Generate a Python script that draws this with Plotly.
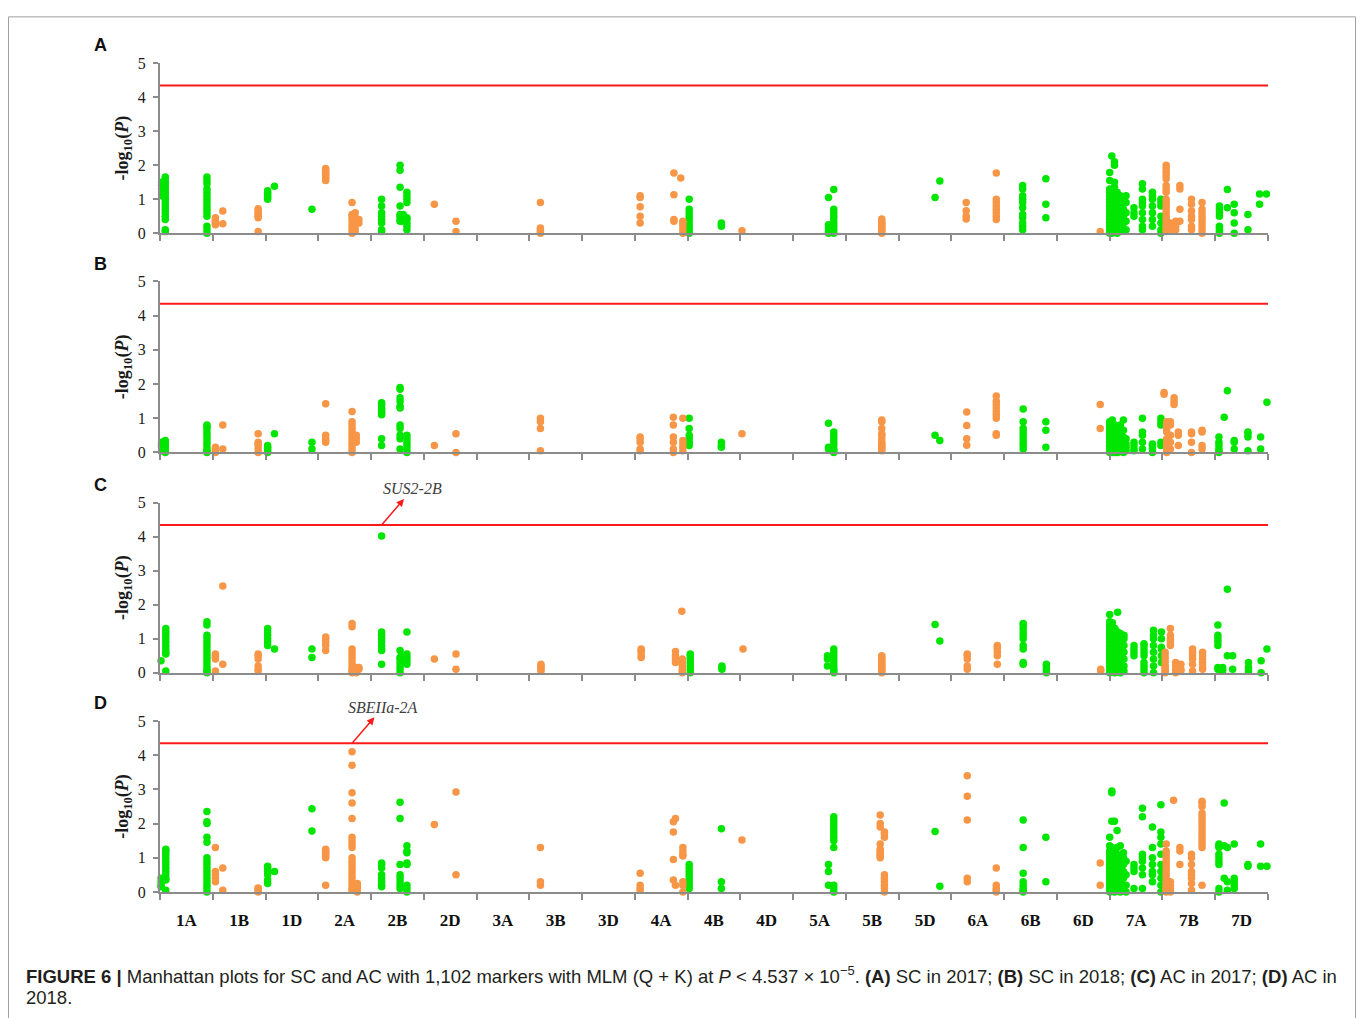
import math
import plotly.graph_objects as go

# ---------------- data ----------------
chromosomes = ["1A", "1B", "1D", "2A", "2B", "2D", "3A", "3B", "3D", "4A", "4B",
               "4D", "5A", "5B", "5D", "6A", "6B", "6D", "7A", "7B", "7D"]
p_threshold = 4.537e-5
y_ticks = [0, 1, 2, 3, 4, 5]

# clusters: (genome position in chromosome units, [-log10(P) values])
panel_a = [
    (0.03, [1.1, 1.3, 1.4, 1.5]),
    (0.10, [0.05, 0.1, 0.4, 0.5, 0.6, 0.7, 0.8, 0.9, 1.0, 1.1, 1.2, 1.3, 1.4, 1.5, 1.6, 1.65]),
    (0.89, [0.0, 0.1, 0.2, 0.5, 0.6, 0.7, 0.8, 0.9, 1.0, 1.1, 1.2, 1.3, 1.45, 1.55, 1.65]),
    (1.05, [0.25, 0.3, 0.35, 0.4, 0.45]),
    (1.19, [0.28, 0.65]),
    (1.86, [0.05, 0.45, 0.5, 0.55, 0.6, 0.65, 0.72]),
    (2.04, [1.0, 1.05, 1.1, 1.15, 1.2, 1.25]),
    (2.17, [1.38]),
    (2.88, [0.7]),
    (3.14, [1.55, 1.6, 1.65, 1.7, 1.75, 1.8, 1.85, 1.9]),
    (3.64, [0.0, 0.1, 0.2, 0.3, 0.4, 0.5, 0.55, 0.9]),
    (3.70, [0.05, 0.15, 0.3, 0.45, 0.6]),
    (3.77, [0.3, 0.4]),
    (4.20, [0.05, 0.1, 0.3, 0.4, 0.5, 0.6, 0.8, 1.0]),
    (4.55, [0.35, 0.4, 0.5, 0.55, 0.8, 1.35, 1.85, 2.0]),
    (4.61, [0.35, 0.45, 0.55]),
    (4.68, [0.1, 0.2, 0.3, 0.4, 0.45, 0.9, 1.0, 1.1, 1.2]),
    (5.20, [0.85]),
    (5.61, [0.05, 0.35]),
    (7.21, [0.0, 0.05, 0.1, 0.15, 0.9]),
    (9.10, [0.3, 0.5, 0.78, 1.05, 1.1]),
    (9.74, [0.35, 0.4, 1.13, 1.77]),
    (9.87, [1.62]),
    (9.91, [0.0, 0.1, 0.2, 0.3, 0.35]),
    (10.03, [0.0, 0.1, 0.2, 0.3, 0.4, 0.5, 0.6, 0.7, 1.0]),
    (10.64, [0.2, 0.25, 0.3]),
    (11.03, [0.07]),
    (12.67, [0.0, 0.05, 0.15, 0.25, 1.05]),
    (12.77, [0.0, 0.1, 0.2, 0.3, 0.4, 0.5, 0.6, 0.7, 1.28]),
    (13.68, [0.0, 0.05, 0.1, 0.15, 0.2, 0.25, 0.3, 0.35, 0.42]),
    (14.69, [1.05]),
    (14.78, [1.53]),
    (15.28, [0.42, 0.5, 0.66, 0.9]),
    (15.85, [0.4, 0.5, 0.6, 0.7, 0.8, 0.9, 1.0, 1.77]),
    (16.35, [0.1, 0.2, 0.3, 0.45, 0.55, 0.75, 0.9, 1.0, 1.1, 1.3, 1.4]),
    (16.79, [0.45, 0.85, 1.6]),
    (17.82, [0.05]),
    (18.00, [0.0, 0.1, 0.2, 0.3, 0.4, 0.5, 0.6, 0.7, 0.8, 0.9, 1.0, 1.1, 1.2, 1.3, 1.55, 1.78]),
    (18.04, [0.0, 0.15, 0.25, 0.35, 0.45, 0.55, 0.65, 0.75, 0.85, 0.95, 1.05, 1.15, 1.25, 2.27]),
    (18.09, [0.05, 0.2, 0.3, 0.4, 0.5, 0.6, 0.7, 0.8, 0.9, 1.0, 1.1, 1.2, 1.35, 1.5, 2.0, 2.1]),
    (18.14, [0.0, 0.1, 0.3, 0.5, 0.6, 0.7, 0.8, 0.9, 1.0, 1.1, 1.2]),
    (18.20, [0.05, 0.2, 0.4, 0.6, 0.8, 0.9, 1.0, 1.1]),
    (18.26, [0.1, 0.3, 0.5, 0.7, 0.9, 1.0]),
    (18.31, [0.1, 0.35, 0.6, 0.9, 1.1]),
    (18.46, [0.5, 0.6, 0.75]),
    (18.62, [0.1, 0.2, 0.4, 0.6, 0.8, 0.9, 1.0, 1.3, 1.45]),
    (18.81, [0.2, 0.4, 0.6, 0.8, 1.0, 1.1, 1.2]),
    (18.97, [0.0, 0.1, 0.3, 0.5, 0.8, 0.9, 1.0]),
    (19.07, [0.05, 0.1, 0.2, 0.3, 0.4, 0.5, 0.6, 0.7, 0.8, 0.9, 1.0, 1.2, 1.3, 1.4, 1.6, 1.7, 1.8, 1.9, 2.0]),
    (19.15, [0.1, 0.15, 0.2, 0.3]),
    (19.25, [0.1, 0.2, 0.35]),
    (19.33, [0.35, 0.7, 1.3, 1.4]),
    (19.55, [0.1, 0.2, 0.4, 0.5, 0.65, 0.85, 1.0]),
    (19.75, [0.0, 0.1, 0.2, 0.3, 0.4, 0.5, 0.6, 0.7, 0.9]),
    (20.08, [0.0, 0.05, 0.1, 0.15, 0.2, 0.5, 0.6, 0.7, 0.8]),
    (20.23, [0.75, 1.28]),
    (20.36, [0.0, 0.3, 0.6, 0.85]),
    (20.62, [0.1, 0.55]),
    (20.84, [0.85, 1.15]),
    (20.97, [1.15]),
]

panel_b = [
    (0.03, [0.05, 0.15, 0.2, 0.25, 0.3]),
    (0.10, [0.0, 0.05, 0.1, 0.15, 0.2, 0.25, 0.3, 0.35]),
    (0.89, [0.0, 0.05, 0.1, 0.2, 0.3, 0.4, 0.5, 0.6, 0.7, 0.75, 0.8]),
    (1.05, [0.0, 0.05, 0.1, 0.15]),
    (1.19, [0.1, 0.8]),
    (1.86, [0.0, 0.1, 0.2, 0.25, 0.3, 0.55]),
    (2.04, [0.0, 0.05, 0.1, 0.15, 0.2]),
    (2.17, [0.55]),
    (2.88, [0.1, 0.3]),
    (3.14, [0.3, 0.35, 0.4, 0.5, 1.42]),
    (3.64, [0.0, 0.1, 0.2, 0.3, 0.4, 0.5, 0.6, 0.7, 0.8, 0.9, 1.2]),
    (3.72, [0.3, 0.4, 0.5]),
    (4.20, [0.2, 0.4, 1.1, 1.15, 1.2, 1.25, 1.3, 1.4, 1.45]),
    (4.55, [0.1, 0.4, 0.5, 0.7, 0.8, 1.3, 1.35, 1.5, 1.6, 1.85, 1.9]),
    (4.68, [0.0, 0.1, 0.2, 0.3, 0.4, 0.5]),
    (5.20, [0.2]),
    (5.61, [0.0, 0.55]),
    (7.21, [0.05, 0.7, 0.9, 1.0]),
    (9.10, [0.05, 0.1, 0.3, 0.4, 0.45]),
    (9.73, [0.0, 0.1, 0.3, 0.45, 0.8, 1.03]),
    (9.91, [0.05, 0.15, 0.25, 0.35, 1.0]),
    (10.03, [0.2, 0.25, 0.3, 0.4, 0.5, 0.7, 1.0]),
    (10.64, [0.15, 0.2, 0.3]),
    (11.03, [0.55]),
    (12.67, [0.1, 0.15, 0.85]),
    (12.77, [0.0, 0.05, 0.1, 0.2, 0.3, 0.4, 0.5, 0.6]),
    (13.68, [0.05, 0.1, 0.15, 0.2, 0.25, 0.3, 0.4, 0.5, 0.55, 0.7, 0.9, 0.95]),
    (14.69, [0.5]),
    (14.78, [0.35]),
    (15.29, [0.21, 0.4, 0.79, 1.18]),
    (15.85, [0.5, 0.55, 1.0, 1.1, 1.2, 1.3, 1.4, 1.5, 1.65]),
    (16.36, [0.1, 0.2, 0.3, 0.4, 0.5, 0.6, 0.7, 0.9, 1.27]),
    (16.79, [0.15, 0.65, 0.9]),
    (17.82, [0.7, 1.4]),
    (18.00, [0.0, 0.05, 0.1, 0.2, 0.3, 0.4, 0.5, 0.6, 0.7, 0.8, 0.9]),
    (18.05, [0.0, 0.1, 0.15, 0.25, 0.35, 0.45, 0.55, 0.65, 0.75, 0.95]),
    (18.10, [0.0, 0.05, 0.2, 0.3, 0.4, 0.5, 0.6, 0.7, 0.8]),
    (18.15, [0.0, 0.1, 0.2, 0.3, 0.4, 0.55, 0.65]),
    (18.20, [0.05, 0.15, 0.3, 0.45, 0.6, 0.75, 0.8]),
    (18.26, [0.0, 0.1, 0.2, 0.3, 0.45, 0.65, 0.95]),
    (18.31, [0.05, 0.15, 0.25, 0.4]),
    (18.46, [0.05, 0.1, 0.2, 0.3]),
    (18.62, [0.1, 0.3, 0.5, 0.6, 1.0]),
    (18.81, [0.0, 0.1, 0.2, 0.25]),
    (18.97, [0.2, 0.3, 0.8, 0.9, 1.0]),
    (19.03, [1.7, 1.75]),
    (19.08, [0.0, 0.1, 0.2, 0.3, 0.4, 0.6, 0.7, 0.8, 0.9]),
    (19.15, [0.1, 0.3, 0.5, 0.8, 0.9]),
    (19.22, [1.4, 1.5, 1.6]),
    (19.30, [0.2, 0.5, 0.6]),
    (19.55, [0.0, 0.3, 0.55, 0.6]),
    (19.75, [0.1, 0.2, 0.6, 0.65]),
    (20.07, [0.0, 0.05, 0.1, 0.2, 0.3, 0.45]),
    (20.17, [1.03]),
    (20.23, [1.8]),
    (20.36, [0.1, 0.3, 0.35]),
    (20.62, [0.05, 0.45, 0.55, 0.6]),
    (20.86, [0.1, 0.45]),
    (20.98, [1.47]),
]

panel_c = [
    (0.02, [0.35]),
    (0.11, [0.05, 0.55, 0.6, 0.7, 0.8, 0.9, 1.0, 1.1, 1.2, 1.3]),
    (0.89, [0.0, 0.05, 0.1, 0.2, 0.3, 0.4, 0.5, 0.6, 0.7, 0.8, 0.9, 1.0, 1.1, 1.4, 1.5]),
    (1.05, [0.05, 0.4, 0.45, 0.5, 0.55]),
    (1.19, [0.25, 2.55]),
    (1.86, [0.05, 0.1, 0.2, 0.4, 0.5, 0.55]),
    (2.04, [0.8, 0.9, 1.0, 1.1, 1.2, 1.3]),
    (2.17, [0.7]),
    (2.88, [0.45, 0.7]),
    (3.14, [0.65, 0.8, 0.9, 1.0, 1.05]),
    (3.64, [0.0, 0.05, 0.1, 0.2, 0.3, 0.4, 0.5, 0.6, 0.7, 1.35, 1.45]),
    (3.72, [0.0, 0.1, 0.15]),
    (3.77, [0.1, 0.15]),
    (4.20, [0.25, 0.65, 0.7, 0.8, 0.9, 1.0, 1.1, 1.2, 4.02]),
    (4.55, [0.0, 0.1, 0.2, 0.3, 0.4, 0.45, 0.65]),
    (4.61, [0.3, 0.5]),
    (4.68, [0.25, 0.35, 0.45, 0.55, 1.2]),
    (5.20, [0.4]),
    (5.61, [0.1, 0.55]),
    (7.22, [0.05, 0.1, 0.15, 0.2, 0.25]),
    (9.12, [0.45, 0.5, 0.6, 0.65, 0.7]),
    (9.77, [0.3, 0.4, 0.5, 0.62]),
    (9.89, [1.81]),
    (9.90, [0.0, 0.05, 0.1, 0.2, 0.3, 0.4]),
    (10.05, [0.0, 0.1, 0.2, 0.3, 0.4, 0.5, 0.55]),
    (10.65, [0.1, 0.15, 0.2]),
    (11.05, [0.7]),
    (12.65, [0.2, 0.4, 0.5]),
    (12.77, [0.0, 0.05, 0.1, 0.2, 0.3, 0.4, 0.5, 0.6, 0.7]),
    (13.68, [0.0, 0.05, 0.1, 0.15, 0.2, 0.25, 0.3, 0.35, 0.4, 0.45, 0.5]),
    (14.69, [1.42]),
    (14.78, [0.93]),
    (15.30, [0.1, 0.2, 0.4, 0.5, 0.55]),
    (15.87, [0.25, 0.5, 0.6, 0.7, 0.75, 0.8]),
    (16.36, [0.25, 0.3, 0.7, 0.8, 1.0, 1.1, 1.2, 1.3, 1.4, 1.45]),
    (16.80, [0.0, 0.1, 0.2, 0.25]),
    (17.83, [0.05, 0.1]),
    (18.00, [0.0, 0.1, 0.2, 0.3, 0.4, 0.5, 0.6, 0.7, 0.8, 0.9, 1.0, 1.1, 1.2, 1.3, 1.4, 1.5, 1.71]),
    (18.05, [0.05, 0.15, 0.25, 0.35, 0.45, 0.55, 0.65, 0.75, 0.85, 0.95, 1.05, 1.15, 1.25, 1.47]),
    (18.10, [0.0, 0.1, 0.2, 0.3, 0.4, 0.5, 0.6, 0.7, 0.8, 0.9, 1.0, 1.1, 1.2, 1.3]),
    (18.15, [0.05, 0.2, 0.35, 0.5, 0.65, 0.8, 0.95, 1.1, 1.2, 1.78]),
    (18.20, [0.0, 0.15, 0.3, 0.45, 0.6, 0.75, 0.9, 1.05, 1.15]),
    (18.27, [0.05, 0.2, 0.4, 0.6, 0.8, 1.0, 1.1]),
    (18.46, [0.5, 0.6, 0.7, 0.8]),
    (18.65, [0.0, 0.1, 0.2, 0.3, 0.5, 0.6, 0.7, 0.8, 0.85]),
    (18.83, [0.0, 0.2, 0.4, 0.6, 0.8, 1.0, 1.1, 1.25]),
    (18.98, [0.3, 0.5, 0.7, 0.75, 1.0, 1.2]),
    (19.05, [0.0, 0.05, 0.1, 0.15, 0.2, 0.3, 0.4, 0.5, 0.6]),
    (19.15, [0.8, 0.9, 1.0, 1.1, 1.3]),
    (19.25, [0.0, 0.1, 0.2, 0.3]),
    (19.35, [0.05, 0.1, 0.25]),
    (19.57, [0.05, 0.25, 0.4, 0.5, 0.6, 0.7]),
    (19.76, [0.1, 0.2, 0.3, 0.4, 0.5, 0.6]),
    (20.05, [0.1, 0.15, 0.8, 0.9, 1.0, 1.1, 1.4]),
    (20.14, [0.05, 0.1, 0.15]),
    (20.23, [2.45, 0.5]),
    (20.33, [0.1, 0.5]),
    (20.63, [0.05, 0.15, 0.3]),
    (20.87, [0.0, 0.35]),
    (20.98, [0.7]),
]

panel_d = [
    (0.02, [0.15, 0.2, 0.3, 0.4]),
    (0.11, [0.05, 0.35, 0.4, 0.5, 0.6, 0.7, 0.8, 0.9, 1.0, 1.1, 1.2, 1.25]),
    (0.89, [0.0, 0.1, 0.2, 0.3, 0.4, 0.5, 0.6, 0.7, 0.8, 0.9, 1.0, 1.45, 1.6, 2.0, 2.05, 2.35]),
    (1.05, [0.3, 0.4, 0.5, 0.6, 1.3]),
    (1.19, [0.05, 0.7]),
    (1.86, [0.0, 0.05, 0.1, 0.12]),
    (2.04, [0.25, 0.35, 0.5, 0.6, 0.7, 0.75]),
    (2.17, [0.6]),
    (2.88, [1.78, 2.43]),
    (3.14, [0.2, 1.0, 1.05, 1.1, 1.15, 1.2, 1.25]),
    (3.64, [0.05, 0.1, 0.2, 0.3, 0.4, 0.5, 0.6, 0.7, 0.8, 0.9, 1.0, 1.3, 1.4, 1.5, 1.6,
            2.15, 2.6, 2.9, 3.7, 4.1]),
    (3.74, [0.0, 0.1, 0.15, 0.2, 0.25]),
    (4.20, [0.15, 0.2, 0.3, 0.4, 0.5, 0.7, 0.8, 0.85]),
    (4.55, [0.1, 0.2, 0.3, 0.4, 0.5, 0.8, 2.15, 2.62]),
    (4.68, [0.0, 0.1, 0.2, 0.8, 0.85, 1.15, 1.2, 1.35]),
    (5.20, [1.97]),
    (5.61, [0.5, 2.92]),
    (7.21, [0.2, 0.3, 1.3]),
    (9.10, [0.05, 0.1, 0.2, 0.55]),
    (9.73, [0.35, 0.95, 1.75, 2.05]),
    (9.77, [0.2, 2.15]),
    (9.91, [0.0, 0.2, 0.3, 1.05, 1.1, 1.2, 1.3]),
    (10.03, [0.1, 0.2, 0.3, 0.4, 0.5, 0.6, 0.7, 0.8]),
    (10.64, [0.1, 0.3, 1.85]),
    (11.03, [1.52]),
    (12.67, [0.2, 0.6, 0.8]),
    (12.77, [0.0, 0.1, 0.2, 1.3, 1.5, 1.6, 1.7, 1.8, 1.9, 2.0, 2.1, 2.2]),
    (13.65, [1.0, 1.05, 1.1, 1.15, 1.2, 1.25, 1.4, 1.9, 2.0, 2.25]),
    (13.73, [0.0, 0.1, 0.2, 0.3, 0.4, 0.5, 1.6, 1.7, 1.75]),
    (14.69, [1.77]),
    (14.78, [0.17]),
    (15.30, [0.3, 0.4, 2.1, 2.8, 3.4]),
    (15.85, [0.0, 0.05, 0.1, 0.2, 0.7]),
    (16.36, [0.0, 0.05, 0.1, 0.2, 0.3, 0.55, 1.3, 2.1]),
    (16.79, [0.3, 1.6]),
    (17.82, [0.2, 0.85]),
    (18.00, [0.0, 0.1, 0.2, 0.3, 0.4, 0.5, 0.6, 0.7, 0.8, 0.9, 1.0, 1.1, 1.2, 1.35, 1.6]),
    (18.04, [0.05, 0.15, 0.25, 0.35, 0.45, 0.55, 0.65, 0.75, 0.85, 0.95, 1.05, 1.15, 1.3, 2.07, 2.9, 2.95]),
    (18.09, [0.0, 0.1, 0.2, 0.3, 0.4, 0.5, 0.6, 0.7, 0.8, 0.9, 1.0, 1.1, 1.25, 2.07]),
    (18.14, [0.05, 0.2, 0.35, 0.5, 0.65, 0.8, 0.95, 1.1, 1.3, 1.8]),
    (18.20, [0.0, 0.15, 0.3, 0.45, 0.6, 0.75, 0.9, 1.05, 1.35]),
    (18.26, [0.05, 0.2, 0.4, 0.6, 0.8, 1.0, 1.15]),
    (18.31, [0.0, 0.2, 0.5, 0.9]),
    (18.46, [0.1, 0.6, 0.7, 0.8]),
    (18.62, [0.1, 0.5, 0.7, 0.9, 1.0, 1.1, 2.2, 2.45]),
    (18.81, [0.3, 0.5, 0.6, 0.8, 1.0, 1.3, 1.9]),
    (18.97, [0.0, 0.2, 0.4, 0.6, 0.8, 1.1, 1.4, 1.6, 1.75, 2.55]),
    (19.07, [0.0, 0.05, 0.1, 0.15, 0.2, 0.3, 0.4, 0.5, 0.6, 0.7, 0.8, 0.9, 1.0, 1.1, 1.2, 1.4]),
    (19.15, [0.0, 0.1, 0.2, 0.3]),
    (19.21, [2.68]),
    (19.33, [0.8, 1.2, 1.3]),
    (19.55, [0.05, 0.25, 0.4, 0.5, 0.6, 0.8, 1.0, 1.1]),
    (19.75, [0.2, 1.3, 1.4, 1.5, 1.6, 1.7, 1.8, 1.9, 2.0, 2.1, 2.2, 2.3, 2.5, 2.6, 2.65]),
    (20.07, [0.0, 0.1, 0.8, 0.9, 1.0, 1.1, 1.3, 1.35, 1.4]),
    (20.17, [2.6, 0.4, 1.35]),
    (20.23, [0.05, 0.3, 1.3]),
    (20.36, [0.1, 0.2, 0.3, 0.4, 1.4]),
    (20.62, [0.75, 0.8]),
    (20.86, [0.75, 1.4]),
    (20.98, [0.75]),
]

panel_letters = ["A", "B", "C", "D"]
# panel index -> (gene label, position of marker the arrow starts at)
gene_labels = {2: ("SUS2-2B", 4.20), 3: ("SBEIIa-2A", 3.64)}

# ---------------- layout geometry (pixels) ----------------
W, H = 1360, 1018
X_LEFT, X_RIGHT = 160, 1268
panel_px = [(56, 229), (278, 452), (503, 676), (725, 899)]  # (y at 5, y at 0)
GREEN = "#00e600"
ORANGE = "#f79646"
AXIS_GRAY = "#8c8c8c"
SERIF = "Liberation Serif, Times New Roman, serif"
SANS = "Liberation Sans, Arial, sans-serif"


def fy(p):
    return 1 - p / H


fig = go.Figure()
threshold = -math.log10(p_threshold)
all_panels = [panel_a, panel_b, panel_c, panel_d]

for i, pts in enumerate(all_panels):
    n = i + 1
    xa, ya = ("x" if n == 1 else f"x{n}"), ("y" if n == 1 else f"y{n}")
    gx, gy, ox, oy = [], [], [], []
    for pos, vals in pts:
        chrom = int(pos)
        for v in vals:
            if chrom % 2 == 0:
                gx.append(pos); gy.append(v)
            else:
                ox.append(pos); oy.append(v)
    fig.add_trace(go.Scatter(x=gx, y=gy, mode="markers", xaxis=xa, yaxis=ya,
                             marker=dict(color=GREEN, size=7.5, line=dict(width=0)),
                             cliponaxis=False, showlegend=False))
    fig.add_trace(go.Scatter(x=ox, y=oy, mode="markers", xaxis=xa, yaxis=ya,
                             marker=dict(color=ORANGE, size=7.5, line=dict(width=0)),
                             cliponaxis=False, showlegend=False))
    fig.add_trace(go.Scatter(x=[0, len(chromosomes)], y=[threshold, threshold], mode="lines",
                             xaxis=xa, yaxis=ya, line=dict(color="#ff1a1a", width=2),
                             showlegend=False, hoverinfo="skip"))

    top, bottom = panel_px[i]
    last = (n == 4)
    fig.layout[f"xaxis{n}" if n > 1 else "xaxis"] = dict(
        domain=[X_LEFT / W, X_RIGHT / W], range=[0, len(chromosomes)], anchor=ya,
        showline=True, linecolor=AXIS_GRAY, linewidth=2, showgrid=False, zeroline=False,
        tickvals=[k + 0.5 for k in range(len(chromosomes))], ticktext=chromosomes,
        showticklabels=last, ticks="", ticklabelstandoff=12,
        tickfont=dict(family=SERIF, size=17, color="#111111", weight="bold"),
        minor=dict(ticks="outside", ticklen=6, tickwidth=1.5, tickcolor=AXIS_GRAY,
                   tick0=0, dtick=1, showgrid=False),
    )
    fig.layout[f"yaxis{n}" if n > 1 else "yaxis"] = dict(
        domain=[fy(bottom), fy(top)], range=[0, 5], anchor=xa,
        showline=True, linecolor=AXIS_GRAY, linewidth=2, showgrid=False, zeroline=False,
        tickvals=y_ticks, ticks="outside", ticklen=5, tickwidth=1.5, tickcolor=AXIS_GRAY,
        tickfont=dict(family=SERIF, size=16, color="#1a1a1a"), ticklabelstandoff=4,
        title=dict(text="<b>-log<sub>10</sub>(<i>P</i>)</b>", standoff=4,
                   font=dict(family=SERIF, size=18, color="#1a1a1a")),
    )
    fig.add_annotation(text=f"<b>{panel_letters[i]}</b>", xref="paper", yref="paper",
                       x=100 / W, y=fy(top - 18), xanchor="center", yanchor="middle",
                       showarrow=False, font=dict(family=SANS, size=18, color="#111111"))

# gene labels with arrows pointing from the threshold line to the label
for i, (label, pos) in gene_labels.items():
    n = i + 1
    fig.add_annotation(x=pos, y=threshold, xref=f"x{n}", yref=f"y{n}",
                       text=f"<i>{label}</i>", showarrow=True, ax=31, ay=-36,
                       arrowside="start", startarrowhead=2, startarrowsize=1,
                       arrowwidth=1.5, arrowcolor="#ff1a1a", startstandoff=0,
                       font=dict(family=SERIF, size=16, color="#404040"))

# caption
CAP_FONT = dict(family=SANS, size=18.5, color="#231f20")
fig.add_annotation(
    text=("<b>FIGURE 6 |</b> Manhattan plots for SC and AC with 1,102 markers with MLM (Q + K) at "
          "<i>P</i> &lt; 4.537 × 10<sup>−5</sup>. <b>(A)</b> SC in 2017; <b>(B)</b> SC in 2018; "
          "<b>(C)</b> AC in 2017; <b>(D)</b> AC in"),
    xref="paper", yref="paper", x=24 / W, y=fy(983), xanchor="left", yanchor="middle",
    showarrow=False, font=CAP_FONT)
fig.add_annotation(text="2018.", xref="paper", yref="paper", x=24 / W, y=fy(1006),
                   xanchor="left", yanchor="middle", showarrow=False, font=CAP_FONT)

fig.add_shape(type="rect", xref="paper", yref="paper", x0=8.5 / W, x1=1355.5 / W,
              y0=fy(1040), y1=fy(9), line=dict(color="#a0a0a0", width=1))

fig.update_layout(width=W, height=H, margin=dict(l=0, r=0, t=0, b=0),
                  paper_bgcolor="white", plot_bgcolor="white", showlegend=False)

fig.write_html("out.html")
